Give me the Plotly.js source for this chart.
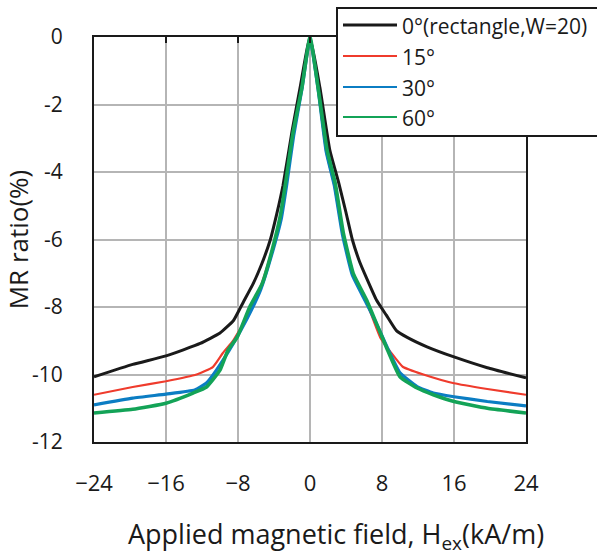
<!DOCTYPE html>
<html>
<head>
<meta charset="utf-8">
<script src="https://cdn.plot.ly/plotly-3.0.1.min.js"></script>
<style>html,body{margin:0;padding:0;background:#fff;}#chart{width:597px;height:556px;}</style>
</head>
<body>
<div id="chart"></div>
<script>
// ---- data ----
const seriesNames = ["0°(rectangle,W=20)", "15°", "30°", "60°"];
const seriesColors = ["#1a1a1a", "#ef3b2c", "#0b7dc3", "#13a357"];
const seriesWidths = [3, 2.2, 3.2, 3.6];

const x0 = [-24,-19.7,-16,-12.2,-10,-8.5,-7.4,-6.3,-5.4,-4.4,-3.7,-3.0,-2.0,-1.1,0,1.1,2.2,3.2,4.0,4.7,5.5,6.3,7.4,8.5,9.6,10.8,13,16,19.7,24];
const y0 = [-10.07,-9.7,-9.45,-9.08,-8.77,-8.4,-7.85,-7.3,-6.75,-6.0,-5.25,-4.4,-2.8,-1.5,0,-1.5,-3.35,-4.33,-5.2,-6.0,-6.65,-7.15,-7.8,-8.25,-8.7,-8.9,-9.18,-9.48,-9.8,-10.1];

const x15 = [-24,-19.7,-16,-12.6,-10.8,-9.7,-8.5,-7,-5.5,-4.2,-3.2,-2.6,-1.8,-0.9,0,0.9,1.8,2.7,3.6,4.7,6.2,7.8,9,10.3,12.6,16,19.7,24];
const y15 = [-10.6,-10.37,-10.2,-10.0,-9.78,-9.37,-8.98,-8.3,-7.4,-6.3,-5.3,-4.3,-2.85,-1.55,-0.1,-1.55,-3.4,-4.4,-5.8,-7.0,-7.8,-8.9,-9.35,-9.77,-10.0,-10.26,-10.43,-10.6];

const x30 = [-24,-19.7,-16,-12.8,-11.5,-10.4,-8.5,-7,-5.5,-4.2,-3.2,-2.6,-1.8,-0.9,0,0.9,1.8,2.7,3.6,4.7,6.2,7.4,8.5,10,11.9,13.7,16,19.7,24];
const y30 = [-10.9,-10.7,-10.58,-10.46,-10.25,-9.87,-9.07,-8.35,-7.5,-6.4,-5.4,-4.4,-2.9,-1.55,-0.05,-1.55,-3.4,-4.4,-5.85,-7.05,-7.85,-8.5,-9.15,-9.95,-10.36,-10.55,-10.66,-10.8,-10.93];

const x60 = [-24,-19.7,-16,-13,-11.5,-10,-9.1,-8.1,-6.7,-5.3,-4.2,-3.3,-2.7,-1.9,-0.9,0,0.9,1.9,2.8,3.7,4.8,6.3,7.4,8.5,10,11.9,13.7,16,19.7,24];
const y60 = [-11.14,-11.03,-10.85,-10.55,-10.37,-9.87,-9.27,-8.9,-8.0,-7.3,-6.3,-5.3,-4.3,-2.85,-1.5,0,-1.5,-3.35,-4.33,-5.8,-7.0,-7.8,-8.5,-9.2,-10.07,-10.4,-10.6,-10.8,-11.0,-11.14];

const xTickVals = [-24,-16,-8,0,8,16,24];
const xTickText = ["\u221224","\u221216","\u22128","0","8","16","24"];
const yTickVals = [0,-2,-4,-6,-8,-10,-12];
const yTickText = ["0","-2","-4","-6","-8","-10","-12"];
const xTitle = "Applied magnetic field, H<sub>ex</sub>(kA/m)";
const yTitle = "MR ratio(%)";

const xs = [x0, x15, x30, x60];
const ys = [y0, y15, y30, y60];

// ---- traces ----
const traces = xs.map((x, i) => ({
  x: x, y: ys[i], type: "scatter", mode: "lines", name: seriesNames[i],
  line: {color: seriesColors[i], width: seriesWidths[i], shape: "spline", smoothing: 0.4},
  showlegend: false, hoverinfo: "skip"
}));
// invisible trace so the top (mirror) axis with inward ticks exists
traces.push({x: [-24, 24], y: [0, 0], xaxis: "x2", mode: "lines", line: {width: 0, color: "rgba(0,0,0,0)"}, showlegend: false, hoverinfo: "skip"});

// ---- manual legend (box + samples + labels) ----
const L = 94, T = 37, W = 432, H = 405;
const px = v => (v - L) / W;
const py = v => (T + H - v) / H;
const fontFam = "Open Sans, Noto Sans, sans-serif";
const shapes = [{
  type: "rect", xref: "paper", yref: "paper",
  x0: px(337), x1: px(605), y0: py(136), y1: py(8),
  line: {color: "#1a1a1a", width: 2}, fillcolor: "#ffffff", layer: "above"
}];
const annotations = [];
const rowY = [25, 56, 87, 117];
seriesNames.forEach((n, i) => {
  shapes.push({type: "line", xref: "paper", yref: "paper", x0: px(343), x1: px(397), y0: py(rowY[i]), y1: py(rowY[i]),
    line: {color: seriesColors[i], width: i === 0 ? 3 : 2.2}, layer: "above"});
  annotations.push({xref: "paper", yref: "paper", x: px(400), y: py(rowY[i] + 1), xanchor: "left", yanchor: "middle",
    text: n, showarrow: false, font: {family: fontFam, size: 21, color: "#1a1a1a"}});
});
// x-axis title (offset to the right as in the reference)
annotations.push({xref: "paper", yref: "paper", x: px(336), y: py(535), xanchor: "center", yanchor: "middle",
  text: xTitle, showarrow: false, font: {family: fontFam, size: 27, color: "#1a1a1a"}});

const layout = {
  width: 597, height: 556,
  margin: {l: L, r: 597 - L - W, t: T, b: 556 - T - H, pad: 0},
  paper_bgcolor: "#ffffff", plot_bgcolor: "#ffffff",
  font: {family: fontFam, color: "#1a1a1a"},
  xaxis: {
    range: [-24, 24], tickvals: xTickVals, ticktext: xTickText,
    showgrid: true, gridcolor: "#b5b5b5", gridwidth: 2,
    showline: true, linecolor: "#1a1a1a", linewidth: 2, mirror: true,
    ticks: "", zeroline: false, ticklabelstandoff: 21,
    tickfont: {family: fontFam, size: 22, color: "#1a1a1a"}
  },
  xaxis2: {
    overlaying: "x", matches: "x", side: "top", range: [-24, 24], tickvals: xTickVals,
    showticklabels: false, showgrid: false, zeroline: false, showline: false,
    ticks: "inside", ticklen: 6, tickwidth: 2, tickcolor: "#1a1a1a"
  },
  yaxis: {
    range: [-12, 0], tickvals: yTickVals, ticktext: yTickText,
    showgrid: true, gridcolor: "#b5b5b5", gridwidth: 2,
    showline: true, linecolor: "#1a1a1a", linewidth: 2, mirror: true,
    ticks: "", zeroline: false, ticklabelstandoff: 25,
    tickfont: {family: fontFam, size: 21, color: "#1a1a1a"},
    title: {text: yTitle, font: {family: fontFam, size: 26, color: "#1a1a1a"}, standoff: 6}
  },
  showlegend: false,
  shapes: shapes, annotations: annotations
};

Plotly.newPlot("chart", traces, layout, {staticPlot: true, displayModeBar: false});
</script>
</body>
</html>
